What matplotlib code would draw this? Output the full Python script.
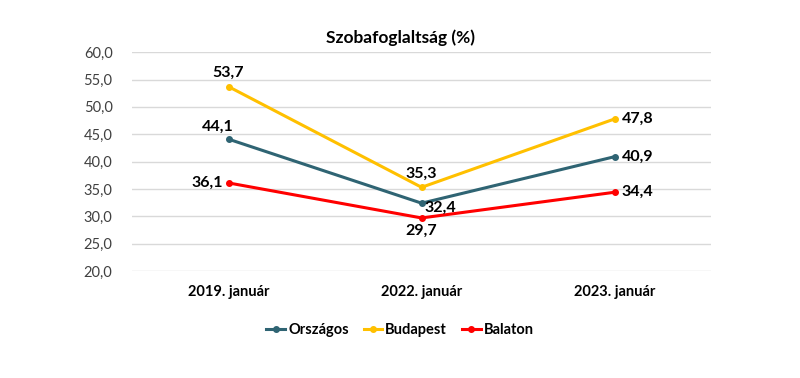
import matplotlib
matplotlib.use("Agg")
import matplotlib.pyplot as plt

categories = ["2019. január", "2022. január", "2023. január"]
orszagos = [44.1, 32.4, 40.9]
budapest = [53.7, 35.3, 47.8]
balaton = [36.1, 29.7, 34.4]
yticks = [20, 25, 30, 35, 40, 45, 50, 55, 60]

plt.rcParams['font.family'] = ['Lato', 'DejaVu Sans']

fig = plt.figure(figsize=(8, 3.78), dpi=100)
ax = fig.add_axes([0.165, 0.283, 0.724, 0.579])

x = list(range(len(categories)))
series = [
    ("Országos", orszagos, "#2F6473"),
    ("Budapest", budapest, "#FFC000"),
    ("Balaton", balaton, "#FF0000"),
]
for name, vals, col in series:
    ax.plot(x, vals, color=col, lw=2.2, marker="o", ms=4, label=name)

fmt = lambda v: f"{v:.1f}".replace(".", ",")
# label offsets (points)
offsets = {
    "Országos": [(-8, 4, "center", "bottom"), (2, 2, "left", "top"), (5, 0, "left", "center")],
    "Budapest": [(0, 5, "center", "bottom"), (0, 5, "center", "bottom"), (5, 0, "left", "center")],
    "Balaton": [(-4, 0, "right", "center"), (0, -4, "center", "top"), (5, 0, "left", "center")],
}
for name, vals, col in series:
    for i, v in enumerate(vals):
        dx, dy, ha, va = offsets[name][i]
        ax.annotate(fmt(v), (i, v), xytext=(dx, dy), textcoords="offset points",
                    ha=ha, va=va, fontsize=11.5, fontweight="bold", color="#000000")

ax.set_xlim(-0.5, 2.5)
ax.set_ylim(20, 60)
ax.set_yticks(yticks)
ax.set_yticklabels([fmt(t) for t in yticks], fontsize=10.5, color="#404040")
ax.set_xticks(x)
ax.set_xticklabels(categories, fontsize=10.5, fontweight="bold")
ax.tick_params(length=0)
ax.tick_params(axis="y", pad=14)
ax.tick_params(axis="x", pad=10)
ax.grid(axis="y", color="#D9D9D9", lw=1)
ax.set_axisbelow(True)
for s in ax.spines.values():
    s.set_visible(False)

fig.text(0.5, 0.9, "Szobafoglaltság (%)", ha="center", va="center", fontsize=12.5, fontweight="bold")

fig.legend(loc="center", bbox_to_anchor=(0.5, 0.128), ncol=3, frameon=False,
           prop={"weight": "bold", "size": 10.5}, handlelength=1.3, handletextpad=0.2, columnspacing=1.0)

fig.savefig("out.png", dpi=100)
